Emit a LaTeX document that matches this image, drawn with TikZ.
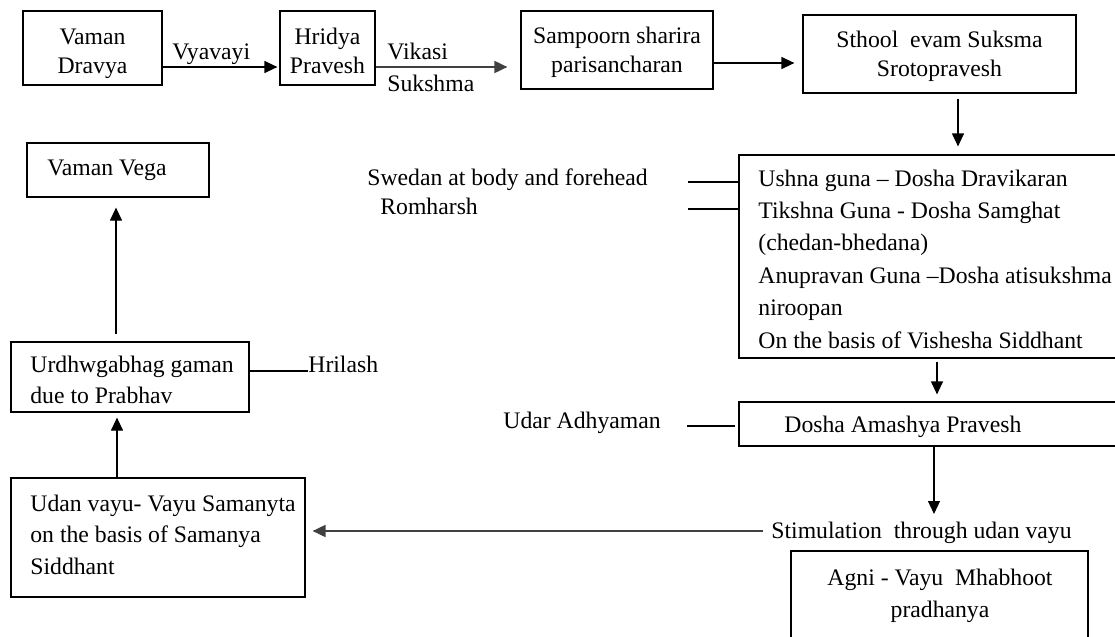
\documentclass[tikz,border=0pt]{standalone}
\usepackage{fontspec}
\setmainfont{Liberation Serif}
\usetikzlibrary{arrows.meta}
\newcommand{\mlines}[2][c]{\begin{tabular}[t]{@{}#1@{}}#2\end{tabular}}
\newcommand{\setfs}[1]{\fontsize{11.85pt}{#1}\selectfont}
\begin{document}
\begin{tikzpicture}[x=0.5pt,y=-0.5pt,
  box/.style={draw, line width=0.6pt, rectangle, inner sep=0pt},
  txt/.style={inner sep=0pt, anchor=base west, font=\setfs{16pt}},
  ctxt/.style={inner sep=0pt, anchor=base, font=\setfs{14.5pt}},
  arr/.style={-{Triangle[length=6.5pt,width=6pt]}, line width=0.6pt},
  link/.style={line width=0.6pt},
  grayline/.style={line width=0.9pt, black!75}]
\useasboundingbox (0,0) rectangle (1115,637);
\clip (0,0) rectangle (1115,637);

% ---- boxes
\node[box, minimum width=69.5pt, minimum height=37pt] (vd) at (92.5,48) {};
\node[box, minimum width=47.5pt, minimum height=37pt] (hp) at (327.5,48) {};
\node[box, minimum width=96pt, minimum height=39pt] (ss) at (617,50) {};
\node[box, minimum width=136.5pt, minimum height=39pt] (st) at (939.5,54) {};
\node[box, minimum width=200.5pt, minimum height=101.5pt] (big) at (939.5,256.5) {};
\node[box, minimum width=200.5pt, minimum height=22pt] (da) at (939.5,424) {};
\node[box, minimum width=148.5pt, minimum height=64.5pt] (ag) at (939.5,615.5) {};
\node[box, minimum width=91pt, minimum height=27pt] (vv) at (118,170) {};
\node[box, minimum width=119pt, minimum height=35pt] (ur) at (130,377) {};
\node[box, minimum width=147pt, minimum height=59.5pt] (uv) at (158,537.5) {};

% ---- box texts
\node[ctxt] (vdt) at (92.5,44) {\mlines{Vaman\\Dravya}};
\node[ctxt] (hpt) at (327.5,44) {\mlines{Hridya\\Pravesh}};
\node[ctxt] (sst) at (617,43) {\mlines{Sampoorn sharira\\parisancharan}};
\node[ctxt] (stt) at (939.5,47) {\mlines{Sthool\ \ evam Suksma\\Srotopravesh}};
\node[txt, font=\setfs{16.2pt}] (bigt) at (758,186) {\mlines[l]{Ushna guna \textendash{} Dosha Dravikaran\\
Tikshna Guna - Dosha Samghat\\
(chedan-bhedana)\\
Anupravan Guna \textendash{}Dosha atisukshma\\
niroopan\\
On the basis of Vishesha Siddhant}};
\node[txt] (dat) at (784,432) {Dosha Amashya Pravesh};
\node[ctxt, font=\setfs{16pt}] (agt) at (940,585) {\mlines{Agni - Vayu\ \ Mhabhoot\\pradhanya}};
\node[txt] (vvt) at (47,175) {Vaman Vega};
\node[txt, font=\setfs{15.5pt}] (urt) at (30,372) {\mlines[l]{Urdhwgabhag gaman\\due to Prabhav}};
\node[txt, font=\setfs{15.75pt}] (uvt) at (30,511) {\mlines[l]{Udan vayu- Vayu Samanyta\\on the basis of Samanya\\Siddhant}};

% ---- free labels
\node[txt] (vya) at (172,60) {Vyavayi};
\node[txt] (vik) at (387,60) {\mlines[l]{Vikasi\\Sukshma}};
\node[txt] (swt) at (367,185) {Swedan at body and forehead};
\node[txt] (rom) at (380,214) {Romharsh};
\node[txt] (hri) at (308,372) {Hrilash};
\node[txt] (uda) at (503,428) {Udar Adhyaman};
\node[txt] (stim) at (771,538) {Stimulation\ \ through udan vayu};

% ---- connectors
\draw[arr, shorten >=1pt] ([yshift=-9.5pt]vd.east) -- ([yshift=-9.5pt]hp.west);
\draw[arr, grayline, shorten >=6.5pt] ([yshift=-9.5pt]hp.east) -- ([yshift=-8.5pt]ss.west);
\draw[arr, shorten >=4pt] ([yshift=-6.5pt]ss.east) -- ([yshift=-4.5pt]st.west);
\draw[arr, shorten <=2.5pt, shorten >=4pt] ([xshift=9.25pt]st.south) -- ([xshift=9.25pt]big.north);

\coordinate (sw1) at (688,182);
\coordinate (sw2) at (688,209);
\draw[link] (sw1) -- (sw1 -| big.west);
\draw[link] (sw2) -- (sw2 -| big.west);

\draw[arr, shorten <=1.5pt, shorten >=3.5pt] ([xshift=-1.25pt]big.south) -- ([xshift=-1.25pt]da.north);

\coordinate (ud) at (687,426);
\draw[link, shorten >=1.5pt] (ud) -- (ud -| da.west);

\coordinate (stimtop) at (934,514);
\draw[arr] ([xshift=-2.75pt]da.south) -- (stimtop);

\coordinate (stl) at (763,531);
\draw[arr, grayline, shorten >=3.5pt] (stl) -- (stl -| uv.east);

\draw[arr, shorten >=2.5pt] ([xshift=-20.5pt]uv.north) -- ([xshift=-6.5pt]ur.south);
\draw[arr, shorten <=3.5pt, shorten >=5pt] ([xshift=-7pt]ur.north) -- ([xshift=-1pt]vv.south);
\draw[link] ([yshift=3pt]ur.east) -- ([yshift=3pt]ur.east -| hri.west);
\end{tikzpicture}
\end{document}
